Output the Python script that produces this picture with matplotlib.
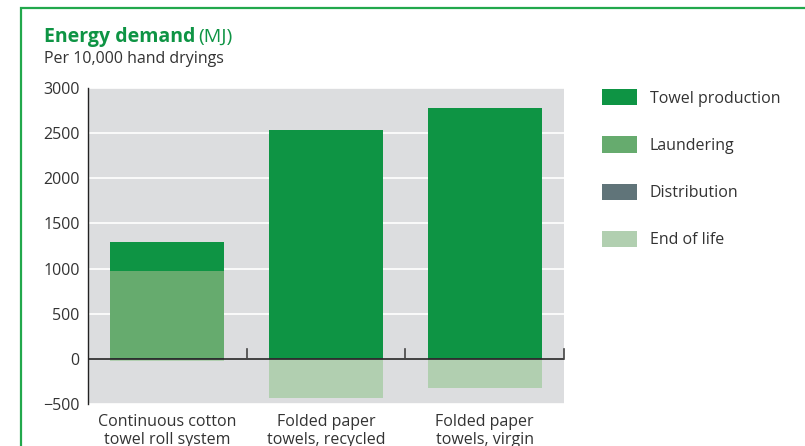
import numpy as np
import matplotlib.pyplot as plt
from matplotlib.patches import Rectangle

plt.rcParams['font.family'] = ['Open Sans', 'DejaVu Sans']

categories = ['Continuous cotton\ntowel roll system', 'Folded paper\ntowels, recycled', 'Folded paper\ntowels, virgin']
distribution = [8, 8, 8]
laundering = [962, 0, 0]
towel_production = [321, 2532, 2775]
end_of_life = [-22, -435, -322]

series = ['Towel production', 'Laundering', 'Distribution', 'End of life']
colors = {'Towel production': '#0e9444', 'Laundering': '#66ab6e',
          'Distribution': '#607479', 'End of life': '#b1cfb0'}
text_col = '#333333'
green = '#0e9444'
fs = 11.5

fig = plt.figure(figsize=(8.05, 4.46), dpi=100)
ax = fig.add_axes([88 / 805, 1 - 404 / 446, (564 - 88) / 805, (404 - 88) / 446])
ax.set_facecolor('#dcdddf')

x = np.arange(len(categories))
w = 0.72
bd = ax.bar(x, distribution, w, color=colors['Distribution'], zorder=3)
bl = ax.bar(x, laundering, w, bottom=distribution, color=colors['Laundering'], zorder=3)
base = np.array(distribution) + np.array(laundering)
bt = ax.bar(x, towel_production, w, bottom=base, color=colors['Towel production'], zorder=3)
be = ax.bar(x, end_of_life, w, color=colors['End of life'], zorder=3)

ax.set_xlim(-0.5, 2.5)
ax.set_ylim(-500, 3000)
ax.set_yticks(range(-500, 3001, 500))
ax.set_yticklabels(['\u2212500'] + [str(v) for v in range(0, 3001, 500)])
ax.yaxis.grid(True, color='white', linewidth=1.2, zorder=1)
ax.set_axisbelow(True)
for s in ['top', 'right', 'bottom']:
    ax.spines[s].set_visible(False)
ax.spines['left'].set_color('#222222')
ax.spines['left'].set_linewidth(1.0)
ax.tick_params(axis='y', length=0, pad=6, labelsize=fs, labelcolor=text_col)

# zero line with upward category ticks
ax.axhline(0, color='#222222', linewidth=1.2, zorder=4)
for b in [0.5, 1.5, 2.5]:
    ax.plot([b, b], [0, 110], color='#444444', linewidth=1.2, zorder=4, clip_on=False)

ax.set_xticks(x)
ax.set_xticklabels(categories, fontsize=fs, color=text_col, linespacing=1.15)
ax.tick_params(axis='x', length=0, pad=7)

handles = [bt, bl, bd, be]
leg = fig.legend(handles, series, loc='upper left', bbox_to_anchor=(602 / 805, 1 - 89 / 446),
                 frameon=False, fontsize=fs, handlelength=2.2, handleheight=1.2,
                 handletextpad=0.8, labelspacing=1.86, borderpad=0, borderaxespad=0)
for t in leg.get_texts():
    t.set_color(text_col)

# titles
fig.text(44 / 805, 1 - 42 / 446, 'Energy demand', fontsize=14, fontweight='bold', color=green, va='baseline')
fig.text(198 / 805, 1 - 42 / 446, '(MJ)', fontsize=14, color=green, va='baseline')
fig.text(44 / 805, 1 - 63 / 446, 'Per 10,000 hand dryings', fontsize=fs, color=text_col, va='baseline')

# outer frame
fig.patches.append(Rectangle((21 / 805, -0.1), 1.2, 1 - 8 / 446 + 0.1, transform=fig.transFigure,
                             fill=False, edgecolor='#22a84c', linewidth=1.6))

fig.savefig('out.png', dpi=100)
